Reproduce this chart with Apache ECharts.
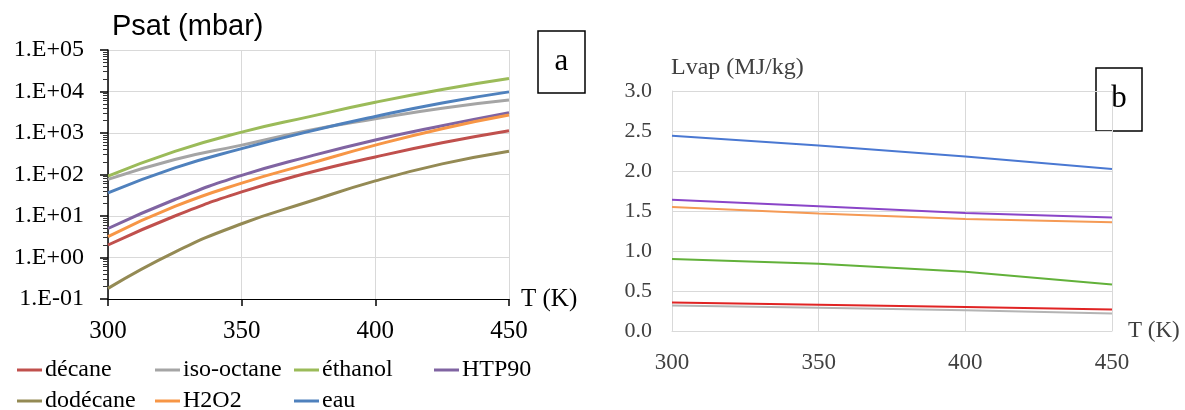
<!DOCTYPE html>
<html>
<head>
<meta charset="utf-8">
<script src="https://cdn.jsdelivr.net/npm/echarts@6/dist/echarts.min.js"></script>
<style>
html,body{margin:0;padding:0;background:#fff;}
#c{width:1185px;height:410px;}
</style>
</head>
<body>
<div id="c"></div>
<script>
// ---- data ----
const T_A = [300, 325, 350, 375, 400, 425, 450];          // K, chart a
const T_B = [300, 350, 400, 450];                          // K, chart b
const NAMES = ['décane', 'iso-octane', 'éthanol', 'HTP90', 'dodécane', 'H2O2', 'eau'];

// Psat (mbar)
const PSAT_DECANE    = [2.0, 10, 38, 110, 265, 580, 1130];
const PSAT_ISOOCTANE = [76, 230, 510, 1150, 2200, 3950, 6200];
const PSAT_ETHANOL   = [91, 360, 1050, 2450, 5500, 11200, 20500];
const PSAT_HTP90     = [5.0, 25, 95, 270, 680, 1500, 3100];
const PSAT_DODECANE  = [0.18, 1.35, 6.5, 22, 70, 180, 365];
const PSAT_H2O2      = [3.2, 17, 62, 180, 510, 1270, 2700];
const PSAT_EAU       = [36, 145, 420, 1080, 2500, 5300, 9800];

// Lvap (MJ/kg)
const LVAP_DECANE    = [0.356, 0.328, 0.30, 0.268];
const LVAP_ISOOCTANE = [0.32, 0.29, 0.26, 0.22];
const LVAP_ETHANOL   = [0.90, 0.84, 0.74, 0.58];
const LVAP_HTP90     = [1.64, 1.56, 1.475, 1.42];
const LVAP_H2O2      = [1.55, 1.47, 1.40, 1.36];
const LVAP_EAU       = [2.44, 2.32, 2.18, 2.025];

// ---- styling ----
const SERIF = '"Liberation Serif", "DejaVu Serif", serif';
const SANS = '"Liberation Sans", "DejaVu Sans", sans-serif';
const COLORS_A = {
  'décane': '#C0504D', 'iso-octane': '#A5A5A5', 'éthanol': '#9BBB59', 'HTP90': '#8064A2',
  'dodécane': '#948A54', 'H2O2': '#F79646', 'eau': '#4F81BD'
};
const COLORS_B = {
  'décane': '#E02424', 'iso-octane': '#B4B4B4', 'éthanol': '#62B13A', 'HTP90': '#8A45C8',
  'H2O2': '#F59A55', 'eau': '#4A78D2'
};

const psatSets = {
  'décane': PSAT_DECANE, 'iso-octane': PSAT_ISOOCTANE, 'éthanol': PSAT_ETHANOL, 'HTP90': PSAT_HTP90,
  'dodécane': PSAT_DODECANE, 'H2O2': PSAT_H2O2, 'eau': PSAT_EAU
};
const lvapSets = {
  'iso-octane': LVAP_ISOOCTANE, 'décane': LVAP_DECANE, 'éthanol': LVAP_ETHANOL,
  'H2O2': LVAP_H2O2, 'HTP90': LVAP_HTP90, 'eau': LVAP_EAU
};

// minor tick positions of the log axis (log10 of 2..9 x 10^k)
const MINOR_LOG = [];
for (let e = -1; e < 5; e++) for (let m = 2; m <= 9; m++) MINOR_LOG.push(e + Math.log10(m));

function sciLabel(v) {
  const e = Math.round(Math.log10(v));
  const a = Math.abs(e);
  return '1.E' + (e < 0 ? '-' : '+') + (a < 10 ? '0' : '') + a;
}

const series = [];
NAMES.forEach(n => {
  series.push({
    name: n, type: 'line', xAxisIndex: 0, yAxisIndex: 0, smooth: true, symbol: 'none',
    lineStyle: { width: 3, color: COLORS_A[n] }, itemStyle: { color: COLORS_A[n] },
    data: T_A.map((t, i) => [t, psatSets[n][i]])
  });
});
Object.keys(lvapSets).forEach(n => {
  series.push({
    name: n, type: 'line', xAxisIndex: 1, yAxisIndex: 2, smooth: false, symbol: 'none',
    lineStyle: { width: 2, color: COLORS_B[n] }, itemStyle: { color: COLORS_B[n] },
    data: T_B.map((t, i) => [t, lvapSets[n][i]])
  });
});

const legendPos = [
  ['décane', 17, 358], ['iso-octane', 155, 358], ['éthanol', 294, 358], ['HTP90', 434, 358],
  ['dodécane', 17, 389], ['H2O2', 155, 389], ['eau', 294, 389]
];
const legends = legendPos.map(p => ({
  data: [p[0]], left: p[1], top: p[2], icon: 'rect', itemWidth: 25, itemHeight: 3, itemGap: 0,
  selectedMode: false, padding: 0,
  textStyle: { fontFamily: SERIF, fontSize: 24, color: '#000', padding: [0, 0, 0, -2] }
}));

const chart = echarts.init(document.getElementById('c'), null, { renderer: 'canvas' });
chart.setOption({
  animation: false,
  backgroundColor: '#fff',
  title: [
    { text: 'Psat (mbar)', left: 112, top: 12, padding: 0,
      textStyle: { fontFamily: SANS, fontSize: 29, fontWeight: 'normal', color: '#000' } },
    { text: 'Lvap (MJ/kg)', left: 671, top: 56, padding: 0,
      textStyle: { fontFamily: SERIF, fontSize: 24, fontWeight: 'normal', color: '#404040' } }
  ],
  legend: legends,
  grid: [
    { left: 108, top: 50, width: 401, height: 249 },
    { left: 672, top: 91, width: 440, height: 240 }
  ],
  xAxis: [
    { type: 'value', gridIndex: 0, min: 300, max: 450, interval: 50,
      name: 'T (K)', nameLocation: 'end', nameGap: 12,
      nameTextStyle: { fontFamily: SERIF, fontSize: 25, color: '#000', verticalAlign: 'middle', padding: [0, 0, 4, 0] },
      axisLine: { show: true, onZero: false, lineStyle: { color: '#000', width: 1.2 } },
      axisTick: { show: true, length: 7, lineStyle: { color: '#000', width: 1.5 } },
      axisLabel: { fontFamily: SERIF, fontSize: 25, color: '#000', margin: 20 },
      splitLine: { show: true, lineStyle: { color: '#D9D9D9', width: 1 } } },
    { type: 'value', gridIndex: 1, min: 300, max: 450, interval: 50,
      name: 'T (K)', nameLocation: 'end', nameGap: 16,
      nameTextStyle: { fontFamily: SERIF, fontSize: 23, color: '#404040', verticalAlign: 'middle', padding: [0, 0, 6, 0] },
      axisLine: { show: true, onZero: false, lineStyle: { color: '#D9D9D9', width: 1 } },
      axisTick: { show: false },
      axisLabel: { fontFamily: SERIF, fontSize: 23, color: '#404040', margin: 20 },
      splitLine: { show: true, lineStyle: { color: '#D9D9D9', width: 1 } } }
  ],
  yAxis: [
    { type: 'log', gridIndex: 0, logBase: 10, min: 0.1, max: 100000, interval: 1,
      axisLine: { show: true, onZero: false, lineStyle: { color: '#000', width: 1.5 } },
      axisTick: { show: true, length: 8, lineStyle: { color: '#000', width: 1.5 } },
      axisLabel: { fontFamily: SERIF, fontSize: 24, color: '#000', margin: 24, formatter: sciLabel },
      splitLine: { show: true, lineStyle: { color: '#D9D9D9', width: 1 } } },
    { type: 'value', gridIndex: 0, min: -1, max: 5, position: 'left', offset: 0,
      axisLine: { show: false, onZero: false },
      axisTick: { show: true, length: 5, customValues: MINOR_LOG, lineStyle: { color: '#333', width: 1 } },
      axisLabel: { show: false },
      splitLine: { show: false } },
    { type: 'value', gridIndex: 1, min: 0, max: 3, interval: 0.5,
      axisLine: { show: true, onZero: false, lineStyle: { color: '#D9D9D9', width: 1 } },
      axisTick: { show: false },
      axisLabel: { fontFamily: SERIF, fontSize: 22, color: '#404040', margin: 20,
        formatter: v => v.toFixed(1) },
      splitLine: { show: true, lineStyle: { color: '#D9D9D9', width: 1 } } }
  ],
  graphic: [
    { type: 'rect', shape: { x: 538, y: 31, width: 47, height: 62 },
      style: { fill: '#fff', stroke: '#000', lineWidth: 1.5 } },
    { type: 'text', x: 561.5, y: 62, style: { text: 'a', fontFamily: SERIF, fontSize: 31,
      fill: '#000', textAlign: 'center', textVerticalAlign: 'middle' } },
    { type: 'rect', shape: { x: 1096, y: 68, width: 46, height: 63 },
      style: { fill: '#fff', stroke: '#000', lineWidth: 1.5 } },
    { type: 'text', x: 1119, y: 99, style: { text: 'b', fontFamily: SERIF, fontSize: 31,
      fill: '#000', textAlign: 'center', textVerticalAlign: 'middle' } }
  ],
  series: series
});
</script>
</body>
</html>
